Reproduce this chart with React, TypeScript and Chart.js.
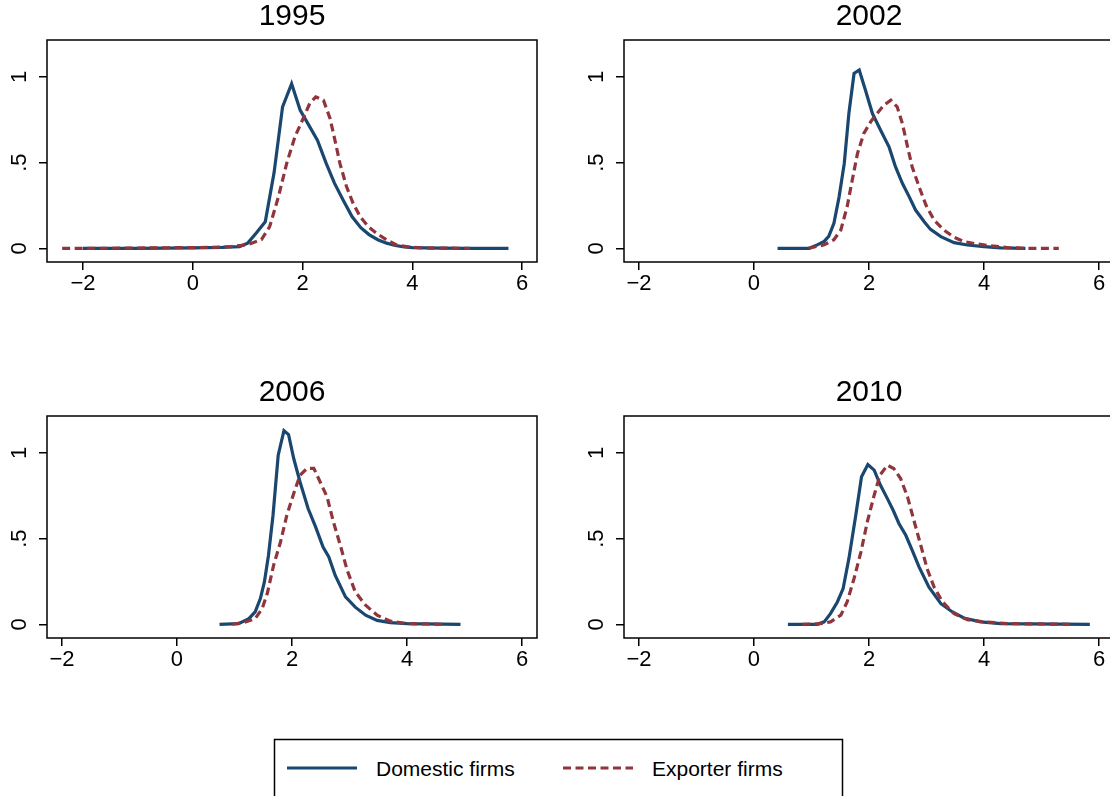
import React, { useEffect, useRef } from 'react';
import { Chart, registerables } from 'chart.js';

Chart.register(...registerables);

const NAVY = '#1a476f';
const MAROON = '#90353b';
const FONT = '"Liberation Sans", Arial, Helvetica, sans-serif';

const xTickValues = [-2, 0, 2, 4, 6];
const xTickLabels = ['\u22122', '0', '2', '4', '6'];
const yTickValues = [0, 0.5, 1];
const yTickLabels = ['0', '.5', '1'];
const seriesLabels = ['Domestic firms', 'Exporter firms'];
const panelTitles = ['1995', '2002', '2006', '2010'];

// 1995
const dom1995X = [-2.0, -1.0, 0.0, 0.53, 0.85, 1.0, 1.16, 1.32, 1.48, 1.635, 1.8, 1.955, 2.11, 2.27, 2.43, 2.58, 2.74, 2.9, 3.06, 3.21, 3.37, 3.53, 3.69, 3.85, 4.0, 4.5, 5.0, 5.75];
const dom1995Y = [0, 0, 0.002, 0.005, 0.01, 0.03, 0.09, 0.155, 0.44, 0.825, 0.96, 0.806, 0.72, 0.63, 0.495, 0.38, 0.28, 0.185, 0.12, 0.08, 0.05, 0.03, 0.016, 0.008, 0.004, 0.001, 0, 0];
const exp1995X = [-2.38, -1.5, -0.5, 0.3, 0.7, 0.98, 1.25, 1.4, 1.56, 1.71, 1.86, 2.01, 2.13, 2.24, 2.38, 2.5, 2.59, 2.68, 2.8, 2.92, 3.05, 3.2, 3.35, 3.53, 3.71, 3.96, 4.3, 5.05];
const exp1995Y = [0, 0, 0.003, 0.005, 0.01, 0.02, 0.05, 0.126, 0.3, 0.495, 0.65, 0.757, 0.845, 0.883, 0.864, 0.757, 0.63, 0.495, 0.36, 0.262, 0.184, 0.126, 0.087, 0.049, 0.019, 0.006, 0.001, 0];

// 2002
const dom2002X = [0.41, 0.96, 1.1, 1.22, 1.3, 1.39, 1.48, 1.57, 1.65, 1.74, 1.83, 1.94, 2.06, 2.2, 2.35, 2.46, 2.58, 2.7, 2.81, 2.96, 3.07, 3.25, 3.48, 3.71, 4.0, 4.29, 4.72];
const dom2002Y = [0, 0, 0.02, 0.04, 0.07, 0.146, 0.3, 0.495, 0.786, 1.02, 1.04, 0.92, 0.786, 0.69, 0.59, 0.476, 0.379, 0.3, 0.223, 0.155, 0.11, 0.068, 0.033, 0.019, 0.01, 0.002, 0];
const exp2002X = [0.95, 1.22, 1.39, 1.51, 1.62, 1.71, 1.8, 1.91, 2.03, 2.14, 2.26, 2.38, 2.49, 2.58, 2.67, 2.75, 2.87, 2.99, 3.13, 3.3, 3.48, 3.65, 3.88, 4.12, 4.41, 4.7, 5.3];
const exp2002Y = [0, 0.02, 0.05, 0.107, 0.243, 0.4, 0.553, 0.67, 0.738, 0.786, 0.835, 0.864, 0.825, 0.728, 0.592, 0.476, 0.36, 0.252, 0.165, 0.107, 0.064, 0.039, 0.025, 0.014, 0.004, 0, 0];

// 2006
const dom2006X = [0.74, 1.07, 1.25, 1.36, 1.45, 1.52, 1.59, 1.67, 1.76, 1.86, 1.94, 2.03, 2.14, 2.28, 2.41, 2.54, 2.64, 2.75, 2.93, 3.1, 3.28, 3.48, 3.71, 4.0, 4.93];
const dom2006Y = [0, 0.004, 0.033, 0.072, 0.15, 0.247, 0.4, 0.636, 0.986, 1.13, 1.107, 0.967, 0.83, 0.675, 0.568, 0.451, 0.393, 0.286, 0.16, 0.1, 0.053, 0.023, 0.01, 0.004, 0];
const exp2006X = [0.96, 1.16, 1.36, 1.48, 1.57, 1.68, 1.8, 1.91, 2.03, 2.14, 2.26, 2.38, 2.49, 2.61, 2.72, 2.84, 2.96, 3.1, 3.28, 3.48, 3.71, 4.0, 4.64];
const exp2006Y = [0, 0.01, 0.033, 0.091, 0.179, 0.344, 0.48, 0.636, 0.763, 0.87, 0.909, 0.909, 0.83, 0.743, 0.597, 0.461, 0.315, 0.189, 0.111, 0.053, 0.018, 0.004, 0];

// 2010
const dom2010X = [0.59, 1.1, 1.22, 1.33, 1.45, 1.55, 1.65, 1.77, 1.87, 1.98, 2.09, 2.2, 2.32, 2.42, 2.52, 2.64, 2.75, 2.87, 3.04, 3.25, 3.45, 3.65, 3.94, 4.29, 5.84];
const dom2010Y = [0, 0, 0.014, 0.062, 0.13, 0.208, 0.383, 0.636, 0.86, 0.932, 0.899, 0.811, 0.733, 0.665, 0.588, 0.519, 0.432, 0.335, 0.218, 0.12, 0.072, 0.037, 0.014, 0.004, 0];
const exp2010X = [0.84, 1.16, 1.33, 1.51, 1.62, 1.74, 1.86, 1.97, 2.09, 2.19, 2.32, 2.43, 2.55, 2.67, 2.78, 2.9, 3.01, 3.13, 3.28, 3.48, 3.71, 4.0, 4.41, 5.57];
const exp2010Y = [0, 0.004, 0.014, 0.053, 0.13, 0.267, 0.422, 0.597, 0.753, 0.87, 0.928, 0.909, 0.85, 0.743, 0.607, 0.461, 0.325, 0.218, 0.13, 0.062, 0.027, 0.014, 0.004, 0];

const panels = [
  { title: panelTitles[0], domX: dom1995X, domY: dom1995Y, expX: exp1995X, expY: exp1995Y, xMin: -2.656, xMax: 6.27, left: 0, top: 0 },
  { title: panelTitles[1], domX: dom2002X, domY: dom2002Y, expX: exp2002X, expY: exp2002Y, xMin: -2.26, xMax: 6.26, left: 577, top: 0 },
  { title: panelTitles[2], domX: dom2006X, domY: dom2006Y, expX: exp2006X, expY: exp2006Y, xMin: -2.26, xMax: 6.26, left: 0, top: 376 },
  { title: panelTitles[3], domX: dom2010X, domY: dom2010Y, expX: exp2010X, expY: exp2010Y, xMin: -2.26, xMax: 6.26, left: 577, top: 376 },
];

const TICK_FONT_SIZE = 22;

const boxPlugin = {
  id: 'boxAndYLabels',
  afterDraw(chart: any) {
    const { ctx, chartArea: a } = chart;
    ctx.save();
    ctx.strokeStyle = '#000';
    ctx.lineWidth = 1.5;
    ctx.strokeRect(a.left, a.top, a.right - a.left, a.bottom - a.top);
    const ys = chart.scales.y;
    ctx.fillStyle = '#000';
    ctx.font = `${TICK_FONT_SIZE}px ${FONT}`;
    ctx.textAlign = 'center';
    ctx.textBaseline = 'middle';
    yTickValues.forEach((v, i) => {
      const py = ys.getPixelForValue(v);
      ctx.save();
      ctx.translate(a.left - 27, py);
      ctx.rotate(-Math.PI / 2);
      ctx.fillText(yTickLabels[i], 0, 0);
      ctx.restore();
    });
    ctx.restore();
  },
};

function Panel(props: any) {
  const ref = useRef<HTMLCanvasElement>(null);
  const p = props.panel;
  useEffect(() => {
    if (!ref.current) return;
    const chart = new Chart(ref.current, {
      type: 'line',
      data: {
        datasets: [
          {
            label: seriesLabels[0],
            data: p.domX.map((x: number, i: number) => ({ x, y: p.domY[i] })),
            borderColor: NAVY,
            backgroundColor: NAVY,
            borderWidth: 3.2,
            pointRadius: 0,
            tension: 0,
            fill: false,
            order: 1,
          },
          {
            label: seriesLabels[1],
            data: p.expX.map((x: number, i: number) => ({ x, y: p.expY[i] })),
            borderColor: MAROON,
            backgroundColor: MAROON,
            borderWidth: 3.2,
            borderDash: [8, 4.5],
            pointRadius: 0,
            tension: 0,
            fill: false,
            order: 0,
          },
        ],
      },
      options: {
        animation: false,
        responsive: false,
        devicePixelRatio: 1,
        layout: { padding: { left: 0, right: 23, top: 0, bottom: 0 } },
        plugins: {
          legend: { display: false },
          tooltip: { enabled: false },
          title: {
            display: true,
            text: p.title,
            fullSize: false,
            color: '#000',
            font: { family: FONT, size: 30, weight: 'normal', lineHeight: 1 },
            padding: { top: 2, bottom: 8 },
          },
        },
        scales: {
          x: {
            type: 'linear',
            min: p.xMin,
            max: p.xMax,
            afterBuildTicks: (s: any) => {
              s.ticks = xTickValues.map((v) => ({ value: v }));
            },
            afterFit: (s: any) => {
              s.height = 38;
            },
            grid: { drawOnChartArea: false, drawTicks: true, tickLength: 8, color: '#000', lineWidth: 1.5 },
            border: { display: false },
            ticks: {
              color: '#000',
              font: { family: FONT, size: TICK_FONT_SIZE },
              padding: 1,
              maxRotation: 0,
              autoSkip: false,
              callback: (v: any) => {
                const i = xTickValues.indexOf(Number(v));
                return i >= 0 ? xTickLabels[i] : '';
              },
            },
          },
          y: {
            type: 'linear',
            min: -0.08,
            max: 1.215,
            afterBuildTicks: (s: any) => {
              s.ticks = yTickValues.map((v) => ({ value: v }));
            },
            afterFit: (s: any) => {
              s.width = 47;
            },
            grid: { drawOnChartArea: false, drawTicks: true, tickLength: 8, color: '#000', lineWidth: 1.5 },
            border: { display: false },
            ticks: { display: false },
          },
        },
      },
      plugins: [boxPlugin],
    } as any);
    return () => chart.destroy();
  }, []);
  return (
    <canvas
      ref={ref}
      width={560}
      height={300}
      style={{ position: 'absolute', left: p.left, top: p.top, width: 560, height: 300 }}
    />
  );
}

export default function App() {
  return (
    <div
      style={{
        position: 'absolute',
        left: 0,
        top: 0,
        width: 1110,
        height: 796,
        overflow: 'hidden',
        background: '#fff',
      }}
    >
      {panels.map((p, i) => (
        <Panel key={i} panel={p} />
      ))}
      <svg
        width={1110}
        height={66}
        style={{ position: 'absolute', left: 0, top: 730 }}
      >
        <rect x={274.5} y={9.5} width={568} height={100} fill="none" stroke="#000" strokeWidth={1.5} />
        <line x1={287} x2={357} y1={38} y2={38} stroke={NAVY} strokeWidth={3.2} />
        <text x={376} y={46} fontFamily={FONT} fontSize={21} fill="#000">
          {seriesLabels[0]}
        </text>
        <line x1={563} x2={633} y1={38} y2={38} stroke={MAROON} strokeWidth={3.2} strokeDasharray="8 4.5" />
        <text x={652} y={46} fontFamily={FONT} fontSize={21} fill="#000">
          {seriesLabels[1]}
        </text>
      </svg>
    </div>
  );
}
